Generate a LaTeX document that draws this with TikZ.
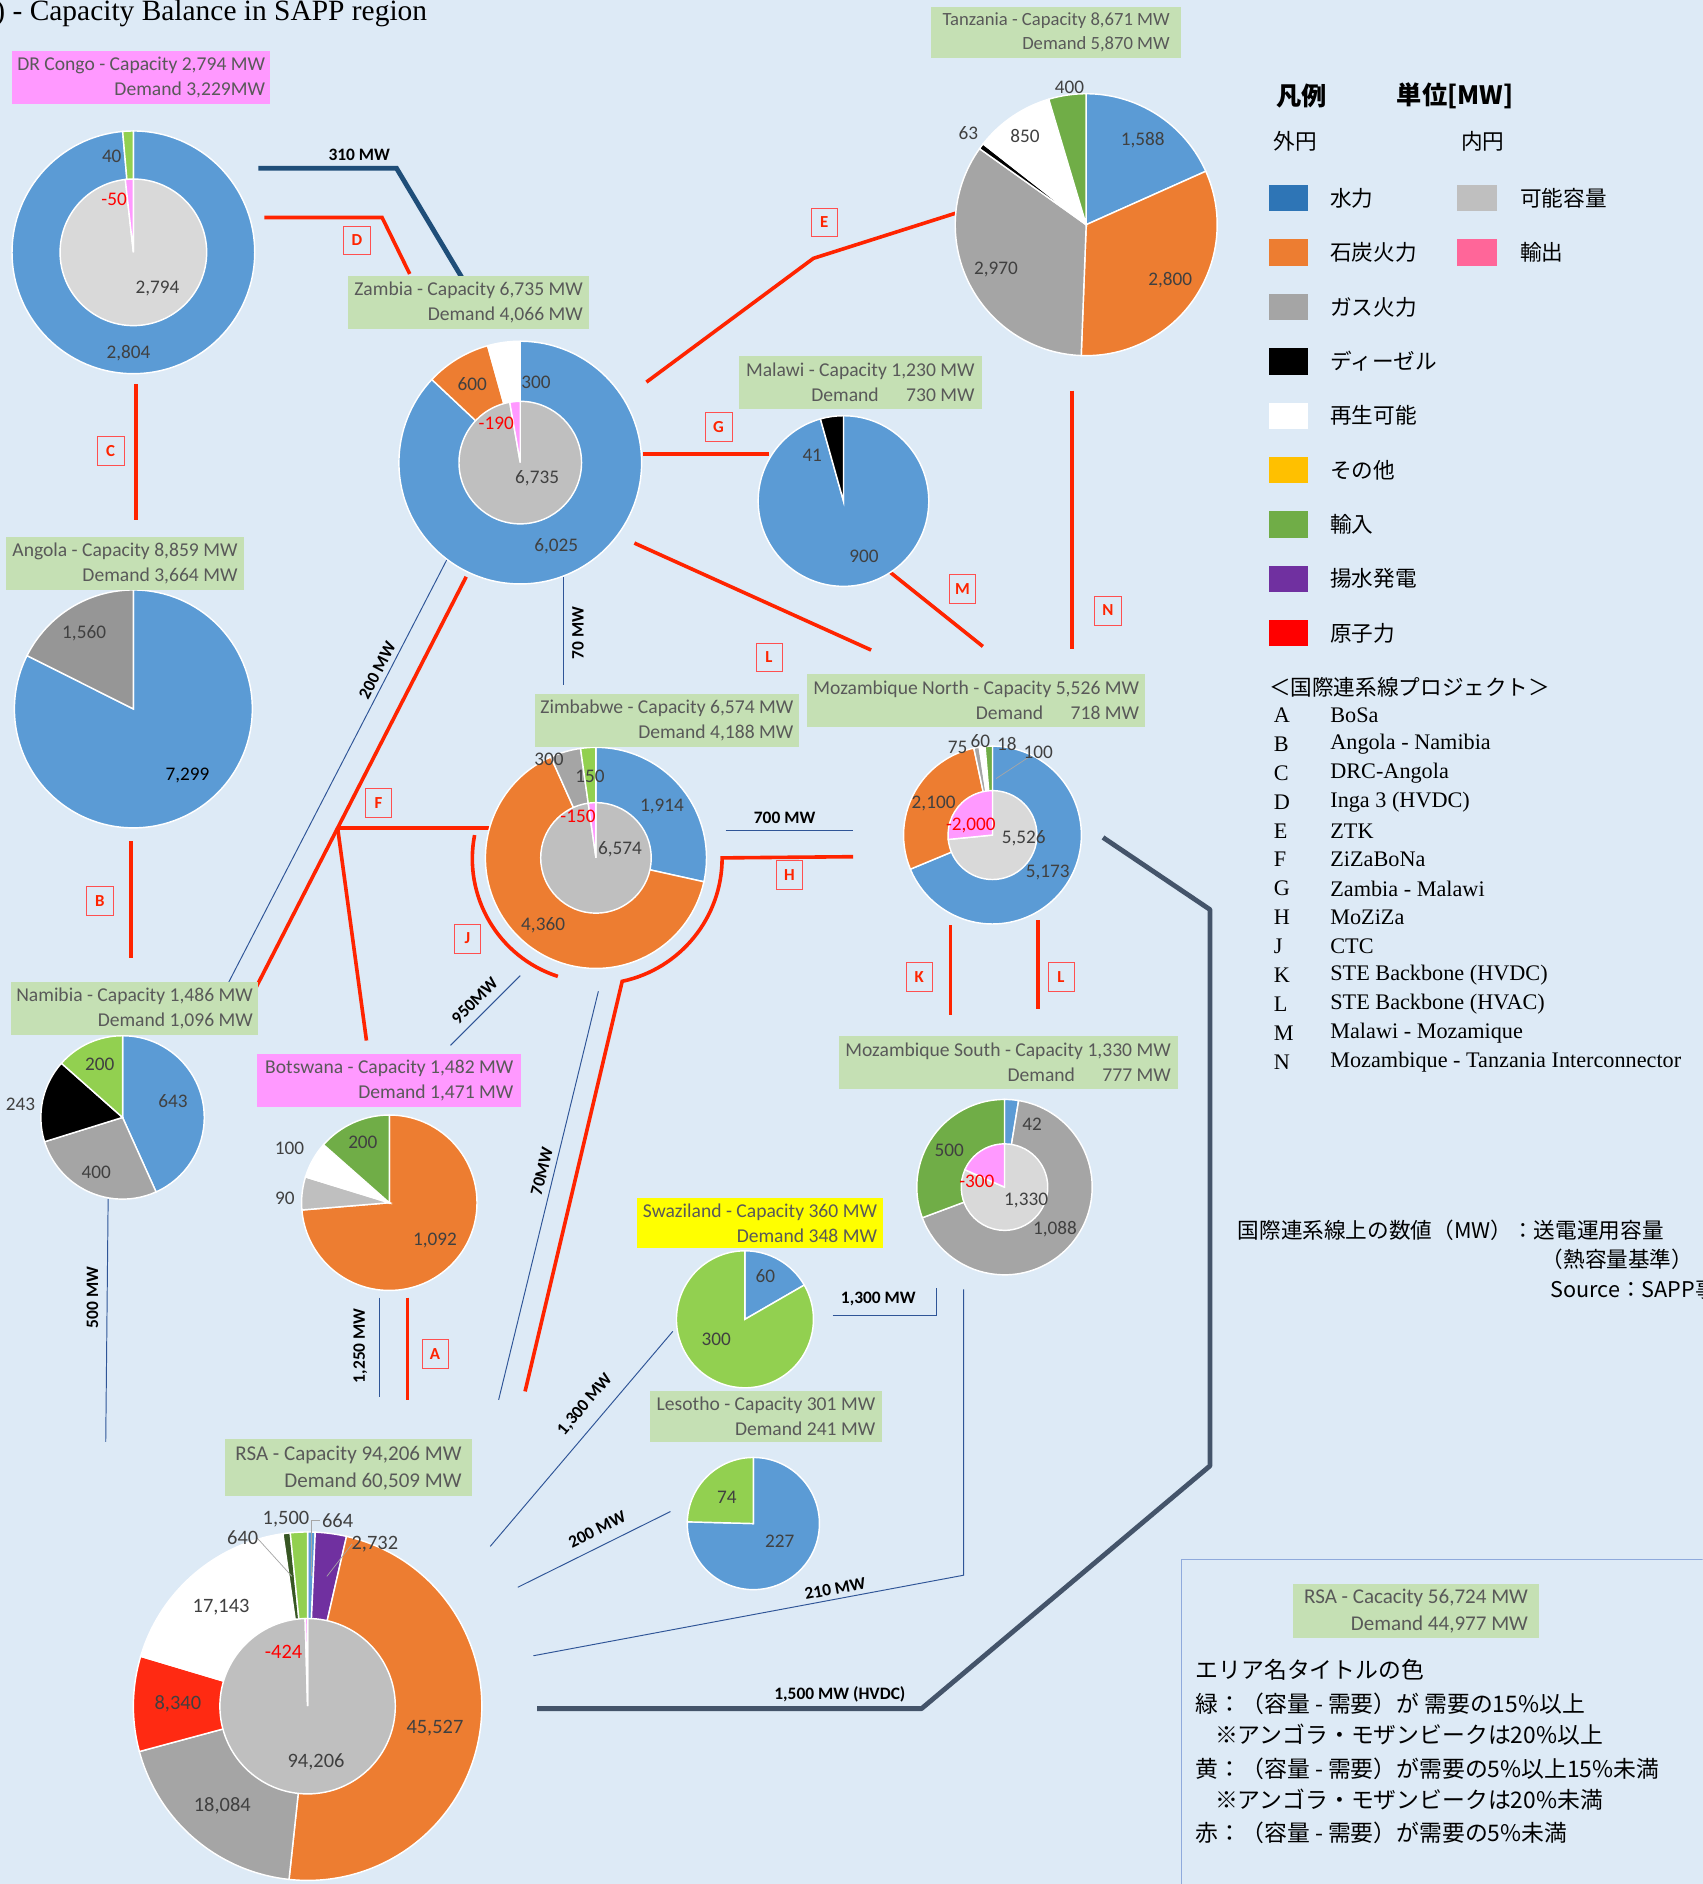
\documentclass[tikz,border=0pt]{standalone}
\usepackage{fontspec}
\setmainfont{Carlito}
\newfontfamily\jpfont{Noto Sans CJK JP}
\newfontfamily\serifrm{Liberation Serif}
\usetikzlibrary{positioning}

\definecolor{bgBlue}{HTML}{DDEAF6}
\definecolor{tagGreen}{HTML}{C5E0B4}
\definecolor{tagPink}{HTML}{FF99FF}
\definecolor{tagYellow}{HTML}{FFFF00}
\definecolor{tagText}{HTML}{595959}
\definecolor{numText}{HTML}{404040}
\definecolor{negRed}{HTML}{FF0000}
\definecolor{lineRed}{HTML}{FF2400}
\definecolor{boxRed}{HTML}{FF5050}
\definecolor{thinBlue}{HTML}{2F5597}
\definecolor{navy}{HTML}{1F4E79}
\definecolor{slate}{HTML}{44546A}
\definecolor{leaderGray}{HTML}{A6A6A6}
\definecolor{hydro}{HTML}{5B9BD5}
\definecolor{coal}{HTML}{ED7D31}
\definecolor{gas}{HTML}{A5A5A5}
\definecolor{angGas}{HTML}{969696}
\definecolor{lgreen}{HTML}{92D050}
\definecolor{dgreen}{HTML}{70AD47}
\definecolor{dkgreen}{HTML}{375623}
\definecolor{pumped}{HTML}{7030A0}
\definecolor{nuke}{HTML}{FF2A12}
\definecolor{avail}{HTML}{BFBFBF}
\definecolor{availL}{HTML}{D9D9D9}
\definecolor{export}{HTML}{FF99FF}
\definecolor{keyHydro}{HTML}{2E75B6}
\definecolor{keyOther}{HTML}{FFC000}
\definecolor{keyNuke}{HTML}{FF0000}
\definecolor{keyExport}{HTML}{FF6699}
\definecolor{boxLine}{HTML}{8FAADC}

% pie slices clockwise from 12 o'clock: center, radius, total, value/colour list
\newcommand{\pieparts}[4]{%
  \gdef\piecum{0}%
  \foreach \pv/\pc in {#4}{%
    \pgfmathsetmacro\pa{90-\piecum/#3*360}%
    \pgfmathsetmacro\pb{90-(\piecum+\pv)/#3*360}%
    \filldraw[fill=\pc, slice] (#1) -- ++(\pa:#2) arc[start angle=\pa, end angle=\pb, radius=#2] -- cycle;
    \pgfmathsetmacro\pn{\piecum+\pv}%
    \global\let\piecum\pn
  }%
}

\begin{document}
\begin{tikzpicture}[x=1pt, y=-1pt,
  areatag/.style={fill=tagGreen, text=tagText, align=right, inner xsep=4pt, inner ysep=2pt, minimum height=44pt, font=\fontsize{16.3}{21}\selectfont},
  numlbl/.style={text=numText, inner sep=0pt, font=\fontsize{16}{19}\selectfont},
  neglbl/.style={numlbl, text=negRed},
  biglbl/.style={font=\fontsize{17}{20}\selectfont},
  mwlbl/.style={inner sep=0pt, font=\bfseries\fontsize{14.5}{16}\selectfont},
  projbox/.style={draw=boxRed, text=lineRed, inner sep=0pt, minimum width=22pt, minimum height=24pt, font=\bfseries\fontsize{14}{16}\selectfont},
  redline/.style={draw=lineRed, line width=3pt},
  thinline/.style={draw=thinBlue, line width=0.8pt},
  leader/.style={draw=leaderGray, line width=0.6pt},
  swatch/.style={minimum width=33pt, minimum height=22pt, inner sep=0pt},
  jp/.style={inner sep=0pt, font=\jpfont\fontsize{18}{21}\selectfont},
  rule/.style={jp, anchor=west, font=\jpfont\fontsize{19}{22}\selectfont},
  projtxt/.style={inner sep=0pt, font=\serifrm\fontsize{18.5}{20}\selectfont},
  slice/.style={draw=white, line width=1.2pt}]

\fill[bgBlue] (0,0) rectangle (1417,1568);
\useasboundingbox (0,0) rectangle (1417,1568);
\clip (0,0) rectangle (1417,1568);

\node[anchor=base west, inner sep=0pt, font=\serifrm\fontsize{24.5}{26}\selectfont] (title) at (-4,17) {) - Capacity Balance in SAPP region};

% line end points
\coordinate (l310a) at (215,140); \coordinate (l310b) at (330,140); \coordinate (l310c) at (385,232);
\coordinate (dA) at (220,181); \coordinate (dB) at (318,181); \coordinate (dC) at (341,228);
\coordinate (cA) at (113,320); \coordinate (cB) at (113,433);
\coordinate (bA) at (109,700); \coordinate (bB) at (109,797);
\coordinate (eA) at (538,318); \coordinate (eB) at (677,215); \coordinate (eC) at (803,175);
\coordinate (gA) at (535,378); \coordinate (gB) at (640,378);
\coordinate (lA) at (528,452); \coordinate (lB) at (725,541);
\coordinate (mA) at (733,470); \coordinate (mB) at (818,538);
\coordinate (nA) at (892,325); \coordinate (nB) at (892,540);
\coordinate (fA) at (388,480); \coordinate (fB) at (213,822); \coordinate (fJ) at (281,689);
\coordinate (fC) at (412,689); \coordinate (fD) at (305,866);
\coordinate (t200a) at (378,454); \coordinate (t200b) at (188,822);
\coordinate (t70a) at (469,480); \coordinate (t70b) at (469,570);
\coordinate (t700a) at (604,691); \coordinate (t700b) at (710,691);
\coordinate (hA) at (710,713); \coordinate (hB) at (601,714); \coordinate (hD) at (437,1158);
\coordinate (jA) at (395,695);
\coordinate (t950a) at (433,812); \coordinate (t950b) at (375,870);
\coordinate (t70c) at (498,825); \coordinate (t70d) at (415,1165);
\coordinate (t1250a) at (316,1080); \coordinate (t1250b) at (316,1163);
\coordinate (aA) at (339,1080); \coordinate (aB) at (339,1165);
\coordinate (t500a) at (90,998); \coordinate (t500b) at (88,1200);
\coordinate (t1300a) at (693,1095); \coordinate (t1300b) at (779,1095); \coordinate (t1300c) at (779,1072);
\coordinate (t1300d) at (560,1108); \coordinate (t1300e) at (408,1287);
\coordinate (t200c) at (558,1258); \coordinate (t200d) at (431,1321);
\coordinate (t210a) at (444,1378); \coordinate (t210b) at (802,1311); \coordinate (t210c) at (802,1073);
\coordinate (hvA) at (447,1422); \coordinate (hvB) at (767,1422); \coordinate (hvC) at (1007,1220);
\coordinate (hvD) at (1007,757); \coordinate (hvE) at (918,697);
\coordinate (kA) at (791,770); \coordinate (kB) at (791,845);
\coordinate (lcA) at (864,766); \coordinate (lcB) at (864,840);

% interconnectors
\draw[navy, line width=4pt] (l310a) -- (l310b) -- (l310c);
\draw[redline] (dA) -- (dB) -- (dC);
\draw[redline] (cA) -- (cB);
\draw[redline] (bA) -- (bB);
\draw[redline] (eA) -- (eB) -- (eC);
\draw[redline] (gA) -- (gB);
\draw[redline] (lA) -- (lB);
\draw[redline] (mA) -- (mB);
\draw[redline] (nA) -- (nB);
\draw[redline] (fA) -- (fB);
\draw[redline] (fJ) -- (fC);
\draw[redline] (fJ) -- (fD);
\draw[redline] (hA) -- (hB) arc[start angle=0, end angle=-78, radius=105pt] -- (hD);
\draw[redline] (jA) arc[start angle=169, end angle=252, radius=103pt];
\draw[redline] (aA) -- (aB);
\draw[redline] (kA) -- (kB);
\draw[redline] (lcA) -- (lcB);
\draw[thinline] (t200a) -- (t200b);
\draw[thinline] (t70a) -- (t70b);
\draw[thinline] (t700a) -- (t700b);
\draw[thinline] (t950a) -- (t950b);
\draw[thinline] (t70c) -- (t70d);
\draw[thinline] (t1250a) -- (t1250b);
\draw[thinline] (t500a) -- (t500b);
\draw[thinline] (t1300a) -- (t1300b) -- (t1300c);
\draw[thinline] (t1300d) -- (t1300e);
\draw[thinline] (t200c) -- (t200d);
\draw[thinline] (t210a) -- (t210b) -- (t210c);
\draw[slate, line width=4pt, line join=round] (hvA) -- (hvB) -- (hvC) -- (hvD) -- (hvE);

% capacity labels
\node[mwlbl] (mw310) at (299,129) {310 MW};
\node[mwlbl, rotate=62.7] (mw200a) at (314,558) {200 MW};
\node[mwlbl, rotate=90] (mw70a) at (481,527) {70 MW};
\node[mwlbl] (mw700) at (653,681) {700 MW};
\node[mwlbl, rotate=45] (mw950) at (395,833) {950MW};
\node[mwlbl, rotate=76] (mw70b) at (451,975) {70MW};
\node[mwlbl, rotate=90] (mw1250) at (300,1120) {1,250 MW};
\node[mwlbl, rotate=90] (mw500) at (77,1080) {500 MW};
\node[mwlbl] (mw1300a) at (731,1081) {1,300 MW};
\node[mwlbl, rotate=49.7] (mw1300b) at (487,1169) {1,300 MW};
\node[mwlbl, rotate=26.4] (mw200b) at (497,1273) {200 MW};
\node[mwlbl, rotate=10.6] (mw210) at (695,1322) {210 MW};
\node[mwlbl] (mw1500) at (699,1410) {1,500 MW (HVDC)};

% project letters
\node[projbox] (pD) at (297,200) {D};
\node[projbox] (pC) at (92,375) {C};
\node[projbox] (pB) at (83,750) {B};
\node[projbox] (pE) at (686,185) {E};
\node[projbox] (pG) at (598,355) {G};
\node[projbox] (pL) at (640,547) {L};
\node[projbox] (pM) at (801,490) {M};
\node[projbox] (pN) at (922,508) {N};
\node[projbox] (pF) at (315,668) {F};
\node[projbox] (pH) at (657,728) {H};
\node[projbox] (pJ) at (389,781) {J};
\node[projbox] (pA) at (362,1127) {A};
\node[projbox] (pK) at (765,813) {K};
\node[projbox] (pL2) at (883,813) {L};

% pies
\coordinate (drc) at (111,210);
\pieparts{drc}{101pt}{2844}{2804/hydro, 40/lgreen}
\pieparts{drc}{61pt}{2844}{2794/availL, 50/export}
\coordinate (zam) at (433,385);
\pieparts{zam}{101pt}{6925}{6025/hydro, 600/coal, 300/white}
\pieparts{zam}{51pt}{6925}{6735/avail, 190/export}
\coordinate (ang) at (111,590);
\pieparts{ang}{99pt}{8859}{7299/hydro, 1560/angGas}
\coordinate (nam) at (102,930);
\pieparts{nam}{68pt}{1486}{643/hydro, 400/gas, 243/black, 200/lgreen}
\coordinate (tan) at (904,187);
\pieparts{tan}{109pt}{8671}{1588/hydro, 2800/coal, 2970/gas, 63/black, 850/white, 400/dgreen}
\coordinate (mal) at (702,417);
\pieparts{mal}{71pt}{941}{900/hydro, 41/black}
\coordinate (zim) at (496,714);
\pieparts{zim}{92pt}{6724}{1914/hydro, 4360/coal, 300/gas, 150/lgreen}
\pieparts{zim}{46pt}{6724}{6574/avail, 150/export}
\coordinate (mzn) at (826,695);
\pieparts{mzn}{74pt}{7526}{5173/hydro, 2100/coal, 75/gas, 60/white, 18/avail, 100/dgreen}
\pieparts{mzn}{37pt}{7526}{5526/availL, 2000/export}
\coordinate (bot) at (324,1001);
\pieparts{bot}{73pt}{1482}{1092/coal, 90/avail, 100/white, 200/dgreen}
\coordinate (swz) at (620,1098);
\pieparts{swz}{57pt}{360}{60/hydro, 300/lgreen}
\coordinate (les) at (627,1268);
\pieparts{les}{55pt}{301}{227/hydro, 74/lgreen}
\coordinate (mzs) at (836,988);
\pieparts{mzs}{73pt}{1630}{42/hydro, 1088/gas, 500/dgreen}
\pieparts{mzs}{36pt}{1630}{1330/availL, 300/export}
\coordinate (rsa) at (256,1420);
\pieparts{rsa}{145pt}{9463}{66.4/hydro, 273.2/pumped, 4552.7/coal, 1808.4/gas, 834/nuke, 1714.3/white, 64/dkgreen, 150/lgreen}
\pieparts{rsa}{73pt}{9463}{9420.6/avail, 42.4/export}

% leaders
\coordinate (ldA) at (858,629); \coordinate (ldB) at (829,648);
\draw[leader] (ldA) -- (ldB);
\coordinate (ld640a) at (214,1280); \coordinate (ld640b) at (243,1312);
\draw[leader] (ld640a) -- (ld640b);
\coordinate (ld664a) at (266,1265); \coordinate (ld664b) at (259,1265); \coordinate (ld664c) at (259,1312);
\draw[leader] (ld664a) -- (ld664b) -- (ld664c);
\coordinate (ld2732a) at (293,1285); \coordinate (ld2732b) at (272,1312);
\draw[leader] (ld2732a) -- (ld2732b);

% area titles
\node[areatag, fill=tagPink, minimum width=215pt] (drcTag) at (117.5,64.5) {DR Congo - Capacity 2,794 MW\\Demand 3,229MW};
\node[areatag, minimum width=200pt] (zamTag) at (390,252) {Zambia - Capacity 6,735 MW\\Demand 4,066 MW};
\node[areatag, minimum width=198pt] (angTag) at (104,469) {Angola - Capacity 8,859 MW\\Demand 3,664 MW};
\node[areatag, minimum width=208pt, minimum height=42pt, font=\fontsize{15.5}{20.5}\selectfont] (tanTag) at (879,27) {Tanzania - Capacity 8,671 MW\\Demand 5,870 MW};
\node[areatag, minimum width=202pt] (malTag) at (716,318) {Malawi - Capacity 1,230 MW\\Demand\hspace{1.4em}730 MW};
\node[areatag, minimum width=206pt] (namTag) at (112,839) {Namibia - Capacity 1,486 MW\\Demand 1,096 MW};
\node[areatag, minimum width=220pt] (zimTag) at (555,599.5) {Zimbabwe - Capacity 6,574 MW\\Demand 4,188 MW};
\node[areatag, minimum width=281pt] (mznTag) at (812.5,583) {Mozambique North - Capacity 5,526 MW\\Demand\hspace{1.4em}718 MW};
\node[areatag, fill=tagPink, minimum width=220pt] (botTag) at (324,899.5) {Botswana - Capacity 1,482 MW\\Demand 1,471 MW};
\node[areatag, minimum width=282pt] (mzsTag) at (839,884) {Mozambique South - Capacity 1,330 MW\\Demand\hspace{1.4em}777 MW};
\node[areatag, fill=tagYellow, minimum width=205pt, minimum height=42pt] (swzTag) at (632.5,1018) {Swaziland - Capacity 360 MW\\Demand 348 MW};
\node[areatag, minimum width=193pt, minimum height=42pt] (lesTag) at (637.5,1179) {Lesotho - Capacity 301 MW\\Demand 241 MW};
\node[areatag, minimum width=206pt, minimum height=47pt, font=\fontsize{17.5}{22.5}\selectfont] (rsaTag) at (290,1221.5) {RSA - Capacity 94,206 MW\\Demand 60,509 MW};

% slice values
\node[numlbl] (drc1) at (93,130) {40};
\node[neglbl] (drc2) at (95,166) {-50};
\node[numlbl] (drc3) at (131,240) {2,794};
\node[numlbl] (drc4) at (107,294) {2,804};
\node[numlbl] (zam1) at (393,320) {600};
\node[numlbl] (zam2) at (446,318) {300};
\node[neglbl] (zam3) at (413,352) {-190};
\node[numlbl] (zam4) at (447,398) {6,735};
\node[numlbl] (zam5) at (463,455) {6,025};
\node[numlbl] (ang1) at (70,527) {1,560};
\node[numlbl, text=black] (ang2) at (156,645) {7,299};
\node[numlbl] (tan1) at (951,117) {1,588};
\node[numlbl] (tan2) at (974,233) {2,800};
\node[numlbl] (tan3) at (829,224) {2,970};
\node[numlbl] (tan4) at (806,111) {63};
\node[numlbl] (tan5) at (853,113) {850};
\node[numlbl] (tan6) at (890,73) {400};
\node[numlbl] (mal1) at (676,379) {41};
\node[numlbl] (mal2) at (719,463) {900};
\node[numlbl] (nam1) at (144,916) {643};
\node[numlbl] (nam2) at (80,976) {400};
\node[numlbl] (nam3) at (17,919) {243};
\node[numlbl] (nam4) at (83,886) {200};
\node[numlbl] (zim1) at (457,632) {300};
\node[numlbl] (zim2) at (491,646) {150};
\node[numlbl] (zim3) at (551,671) {1,914};
\node[neglbl] (zim4) at (481,679) {-150};
\node[numlbl] (zim5) at (516,707) {6,574};
\node[numlbl] (zim6) at (452,770) {4,360};
\node[numlbl] (mzn1) at (797,622) {75};
\node[numlbl] (mzn2) at (816,617) {60};
\node[numlbl] (mzn3) at (838,619) {18};
\node[numlbl] (mzn4) at (864,626) {100};
\node[numlbl] (mzn5) at (777,669) {2,100};
\node[neglbl] (mzn6) at (808,687) {-2,000};
\node[numlbl] (mzn7) at (852,698) {5,526};
\node[numlbl] (mzn8) at (872,726) {5,173};
\node[numlbl] (bot1) at (302,951) {200};
\node[numlbl] (bot2) at (241,956) {100};
\node[numlbl] (bot3) at (237,997) {90};
\node[numlbl] (bot4) at (362,1032) {1,092};
\node[numlbl] (swz1) at (637,1062) {60};
\node[numlbl] (swz2) at (596,1115) {300};
\node[numlbl] (les1) at (605,1246) {74};
\node[numlbl] (les2) at (649,1283) {227};
\node[numlbl] (mzs1) at (859,936) {42};
\node[numlbl] (mzs2) at (790,957) {500};
\node[neglbl] (mzs3) at (813,983) {-300};
\node[numlbl] (mzs4) at (854,999) {1,330};
\node[numlbl] (mzs5) at (878,1023) {1,088};
\node[numlbl, biglbl] (rsa1) at (238,1264) {1,500};
\node[numlbl, biglbl] (rsa2) at (281,1266) {664};
\node[numlbl, biglbl] (rsa3) at (202,1280) {640};
\node[numlbl, biglbl] (rsa4) at (312,1285) {2,732};
\node[numlbl, biglbl] (rsa5) at (184,1338) {17,143};
\node[numlbl, biglbl] (rsa6) at (148,1418) {8,340};
\node[neglbl, biglbl] (rsa7) at (236,1375) {-424};
\node[numlbl, biglbl] (rsa8) at (263,1466) {94,206};
\node[numlbl, biglbl] (rsa9) at (185,1503) {18,084};
\node[numlbl, biglbl] (rsa10) at (362,1438) {45,527};

% legend
\node[jp, font=\jpfont\bfseries\fontsize{21}{24}\selectfont] (legHead) at (1083,80) {凡例};
\node[jp, font=\jpfont\bfseries\fontsize{21}{24}\selectfont] (legUnit) at (1211,80) {単位[MW]};
\node[jp, anchor=west] (legOut) at (1060,118) {外円};
\node[jp, anchor=west] (legIn) at (1216,118) {内円};
\foreach \c/\t [count=\i] in {keyHydro/水力, coal/石炭火力, gas/ガス火力, black/ディーゼル, white/再生可能, keyOther/その他, dgreen/輸入, pumped/揚水発電, keyNuke/原子力} {
  \node[swatch, fill=\c] (key\i) at (1072.5,{165+(\i-1)*45.25}) {};
  \node[jp, anchor=west] (keyTxt\i) at (1107,{165+(\i-1)*45.25}) {\t};
}
\node[swatch, fill=avail] (keyAvail) at (1229.5,165) {};
\node[jp, anchor=west] (keyAvailTxt) at (1265,165) {可能容量};
\node[swatch, fill=keyExport] (keyExp) at (1229.5,210) {};
\node[jp, anchor=west] (keyExpTxt) at (1265,210) {輸出};

\node[jp, anchor=west] (projHead) at (1056,572) {＜国際連系線プロジェクト＞};
\foreach \l/\t [count=\i] in {A/BoSa, B/Angola - Namibia, C/DRC-Angola, D/Inga 3 (HVDC), E/ZTK, F/ZiZaBoNa, G/Zambia - Malawi, H/MoZiZa, J/CTC, K/STE Backbone (HVDC), L/STE Backbone (HVAC), M/Malawi - Mozamique, N/Mozambique - Tanzania Interconnector} {
  \node[projtxt, anchor=west] (projKey\i) at (1060,{595+(\i-1)*24.1}) {\l};
  \node[projtxt, anchor=west] (projName\i) at (1107,{595+(\i-1)*24.1}) {\t};
}

\node[jp, anchor=west] (note1) at (1030,1024) {国際連系線上の数値（MW）：送電運用容量};
\node[jp, anchor=west] (note2) at (1283,1048) {（熱容量基準）};
\node[jp, anchor=west] (note3) at (1290,1073) {Source：SAPP事務局};

% colour key box
\draw[boxLine, line width=0.8pt] (983,1298) rectangle (1440,1590);
\node[areatag, minimum width=205pt, minimum height=45pt, font=\fontsize{17.5}{22.5}\selectfont] (keyTag) at (1178.5,1340.5) {RSA - Cacacity 56,724 MW\\Demand 44,977 MW};
\node[rule] (rule0) at (995,1390) {エリア名タイトルの色};
\node[rule] (rule1) at (995,1418) {緑：（容量 - 需要）が 需要の15\%以上};
\node[rule] (rule2) at (1011,1444) {※アンゴラ・モザンビークは20\%以上};
\node[rule] (rule3) at (995,1472) {黄：（容量 - 需要）が需要の5\%以上15\%未満};
\node[rule] (rule4) at (1011,1498) {※アンゴラ・モザンビークは20\%未満};
\node[rule] (rule5) at (995,1525) {赤：（容量 - 需要）が需要の5\%未満};
\end{tikzpicture}
\end{document}
